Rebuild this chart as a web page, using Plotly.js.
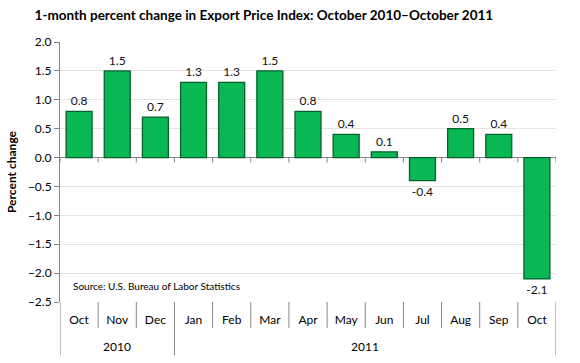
<!DOCTYPE html>
<html><head><meta charset="utf-8">
<script src="https://cdn.plot.ly/plotly-3.0.1.min.js"></script>
<style>body{margin:0;background:#fff}#c{width:580px;height:363px}</style>
</head><body><div id="c"></div>
<script>
const months = ["Oct","Nov","Dec","Jan","Feb","Mar","Apr","May","Jun","Jul","Aug","Sep","Oct"];
const years = ["2010","2011"];
const yearStartIdx = [0, 3];
const yearEndIdx = [2, 12];
const values = [0.8, 1.5, 0.7, 1.3, 1.3, 1.5, 0.8, 0.4, 0.1, -0.4, 0.5, 0.4, -2.1];
const labels = values.map(v => v.toFixed(1));
const xs = months.map((m, i) => i);

const axisCol = '#868686';
const shapes = [];
for (let i = 0; i <= months.length; i++) {
  shapes.push({type:'line', xref:'x', yref:'y', ysizemode:'pixel', yanchor:0,
    x0:i-0.5, x1:i-0.5, y0:0, y1:-5, line:{color:axisCol, width:1}});
}
for (let i = 0; i <= months.length; i++) {
  const isYear = (i === 0 || i === months.length || yearStartIdx.includes(i));
  shapes.push({type:'line', xref:'x', yref:'paper', x0:i-0.5, x1:i-0.5,
    y0:0, y1: isYear ? -0.205 : -0.1, line:{color:axisCol, width:1}});
}
const annotations = years.map((yr, k) => ({
  text: yr, xref:'x', yref:'paper', x:(yearStartIdx[k]+yearEndIdx[k])/2, y:-0.17,
  showarrow:false, yanchor:'middle', font:{size:12, color:'#000', family:'Lato, sans-serif'}
}));
annotations.push({text:'Source: U.S. Bureau of Labor Statistics', xref:'paper', yref:'paper',
  x:0.022, y:0.06, xanchor:'left', yanchor:'middle', showarrow:false,
  font:{size:10, color:'#000', family:'Lato, sans-serif'}});

Plotly.newPlot('c', [{
  type:'bar', x: xs, y: values, width:0.68,
  text: labels, textposition:'outside', cliponaxis:false,
  textfont:{size:12, color:'#111', family:'Lato, sans-serif'},
  marker:{color:'#0ab853', line:{color:'#06602c', width:1.3}},
  hoverinfo:'skip'
}], {
  width:580, height:363,
  margin:{l:60, r:24, t:42, b:61},
  paper_bgcolor:'#fff', plot_bgcolor:'#fff',
  showlegend:false,
  title:{text:'<b>1-month percent change in Export Price Index: October 2010–October 2011</b>',
    font:{size:13.5, color:'#000', family:'Lato, sans-serif'}, x:0.455, xanchor:'center', y:0.97},
  xaxis:{range:[-0.5, 12.5], tickmode:'array', tickvals:xs, ticktext:months,
    showgrid:false, zeroline:false, showline:false, ticks:'', ticklen:0, ticklabelstandoff:9,
    tickfont:{size:12, color:'#000', family:'Lato, sans-serif'}, fixedrange:true},
  yaxis:{range:[-2.5, 2.0], dtick:0.5, tick0:0, tickformat:'.1f',
    showgrid:true, gridcolor:'#e4e4e4', gridwidth:1,
    zeroline:true, zerolinecolor:axisCol, zerolinewidth:1,
    showline:true, linecolor:axisCol, linewidth:1, ticks:'outside', ticklen:5, tickcolor:axisCol,
    tickfont:{size:12, color:'#000', family:'Lato, sans-serif'},
    title:{text:'<b>Percent change</b>', font:{size:12, color:'#000', family:'Lato, sans-serif'}, standoff:8},
    fixedrange:true},
  shapes: shapes, annotations: annotations
}, {displayModeBar:false, staticPlot:true});
</script></body></html>
